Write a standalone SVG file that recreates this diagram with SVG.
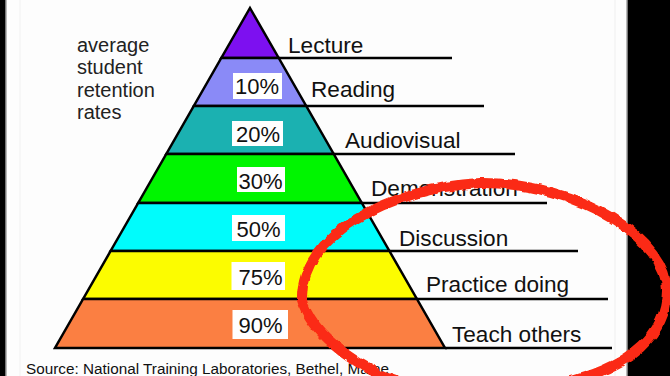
<svg xmlns="http://www.w3.org/2000/svg" width="670" height="376" viewBox="0 0 670 376">
  <style>
    .band { stroke: #000; stroke-width: 2.5; stroke-linejoin: miter; }
    .box { fill: #fff; }
    .pct { font-family: "Liberation Sans", Arial, sans-serif; font-size: 22px; fill: #111; text-anchor: middle; }
    .lbl { font-family: "Liberation Sans", Arial, sans-serif; font-size: 22.6px; fill: #111; }
    .side { font-family: "Liberation Sans", Arial, sans-serif; font-size: 20px; fill: #222; }
    .src { font-family: "Liberation Sans", Arial, sans-serif; font-size: 15.3px; fill: #111; }
    .leader { stroke: #000; stroke-width: 2.5; fill: none; }
  </style>
  <defs>
    <filter id="rough" filterUnits="userSpaceOnUse" x="0" y="0" width="670" height="376">
      <feTurbulence type="fractalNoise" baseFrequency="0.09" numOctaves="2" seed="3" result="n"/>
      <feDisplacementMap in="SourceGraphic" in2="n" scale="5" xChannelSelector="R" yChannelSelector="G"/>
    </filter>
  </defs>

  <!-- background and frame -->
  <rect x="0" y="0" width="670" height="376" fill="#fdfdfd"/>
  <line x1="20" y1="0" x2="20" y2="376" stroke="#f1f1f1" stroke-width="1"/>
  <line x1="615" y1="0" x2="615" y2="376" stroke="#efefef" stroke-width="1"/>
  <rect x="0" y="0" width="5" height="376" fill="#000"/>
  <rect x="5" y="0" width="1.5" height="376" fill="#777"/>
  <rect x="626.5" y="0" width="1.5" height="376" fill="#777"/>
  <rect x="628" y="0" width="42" height="376" fill="#000"/>

  <!-- side caption -->
  <g id="caption">
    <text class="side" x="77" y="52">average</text>
    <text class="side" x="77" y="74">student</text>
    <text class="side" x="77" y="97">retention</text>
    <text class="side" x="77" y="119">rates</text>
  </g>

  <!-- pyramid levels -->
  <g id="lecture">
    <polygon class="band" fill="#7d10f0" points="250,8 278.7,58 221.3,58"/>
    <text class="lbl" x="288" y="53">Lecture</text>
  </g>
  <g id="reading">
    <polygon class="band" fill="#8a8af7" points="221.3,58 278.7,58 306.2,106 193.8,106"/>
    <rect class="box" x="233" y="73" width="49" height="26"/>
    <text class="pct" x="257" y="94">10%</text>
    <text class="lbl" x="311" y="97">Reading</text>
  </g>
  <g id="audiovisual">
    <polygon class="band" fill="#1bb1b1" points="193.8,106 306.2,106 333.7,154 166.3,154"/>
    <rect class="box" x="232" y="121" width="51" height="25"/>
    <text class="pct" x="258" y="142">20%</text>
    <text class="lbl" x="345" y="148">Audiovisual</text>
  </g>
  <g id="demonstration">
    <polygon class="band" fill="#00f500" points="166.3,154 333.7,154 361.8,203 138.2,203"/>
    <rect class="box" x="237" y="167" width="48" height="25"/>
    <text class="pct" x="260.5" y="189">30%</text>
    <text class="lbl" x="371" y="196">Demonstration</text>
  </g>
  <g id="discussion">
    <polygon class="band" fill="#00fcfc" points="138.2,203 361.8,203 389.4,251 110.6,251"/>
    <rect class="box" x="232" y="215" width="53" height="26"/>
    <text class="pct" x="258.5" y="237">50%</text>
    <text class="lbl" x="399" y="246">Discussion</text>
  </g>
  <g id="practice">
    <polygon class="band" fill="#fcfc00" points="110.6,251 389.4,251 416.9,299 83.1,299"/>
    <rect class="box" x="231.5" y="262" width="53.5" height="28"/>
    <text class="pct" x="260.5" y="285">75%</text>
    <text class="lbl" x="426" y="292">Practice doing</text>
  </g>
  <g id="teach">
    <polygon class="band" fill="#fb7f42" points="83.1,299 416.9,299 445,348 55,348"/>
    <rect class="box" x="232.5" y="310" width="55.5" height="29"/>
    <text class="pct" x="260.5" y="333">90%</text>
    <text class="lbl" x="452" y="342">Teach others</text>
  </g>

  <!-- leader lines -->
  <g id="connectors">
    <line class="leader" x1="278.7" y1="58" x2="452" y2="58"/>
    <line class="leader" x1="306.2" y1="106" x2="484" y2="106"/>
    <line class="leader" x1="333.7" y1="154" x2="515" y2="154"/>
    <line class="leader" x1="361.8" y1="203" x2="547" y2="203"/>
    <line class="leader" x1="389.4" y1="251" x2="578" y2="251"/>
    <line class="leader" x1="416.9" y1="299" x2="608" y2="299"/>
    <line class="leader" x1="445" y1="348" x2="612" y2="348"/>
  </g>

  <g id="source">
    <text class="src" x="26" y="374">Source: National Training Laboratories, Bethel, Maine</text>
  </g>

  <!-- hand-drawn red ellipse -->
  <g id="red-circle">
    <path d="M 302 300 C 300 235 390 188 480 183 C 580 182 668 240 667 292 C 666 335 630 365 575 380 C 520 395 430 395 385 376 C 350 362 310 330 302 300 Z"
          fill="none" stroke="#fb2c12" stroke-width="10" stroke-linecap="round" filter="url(#rough)"/>
  </g>
</svg>
